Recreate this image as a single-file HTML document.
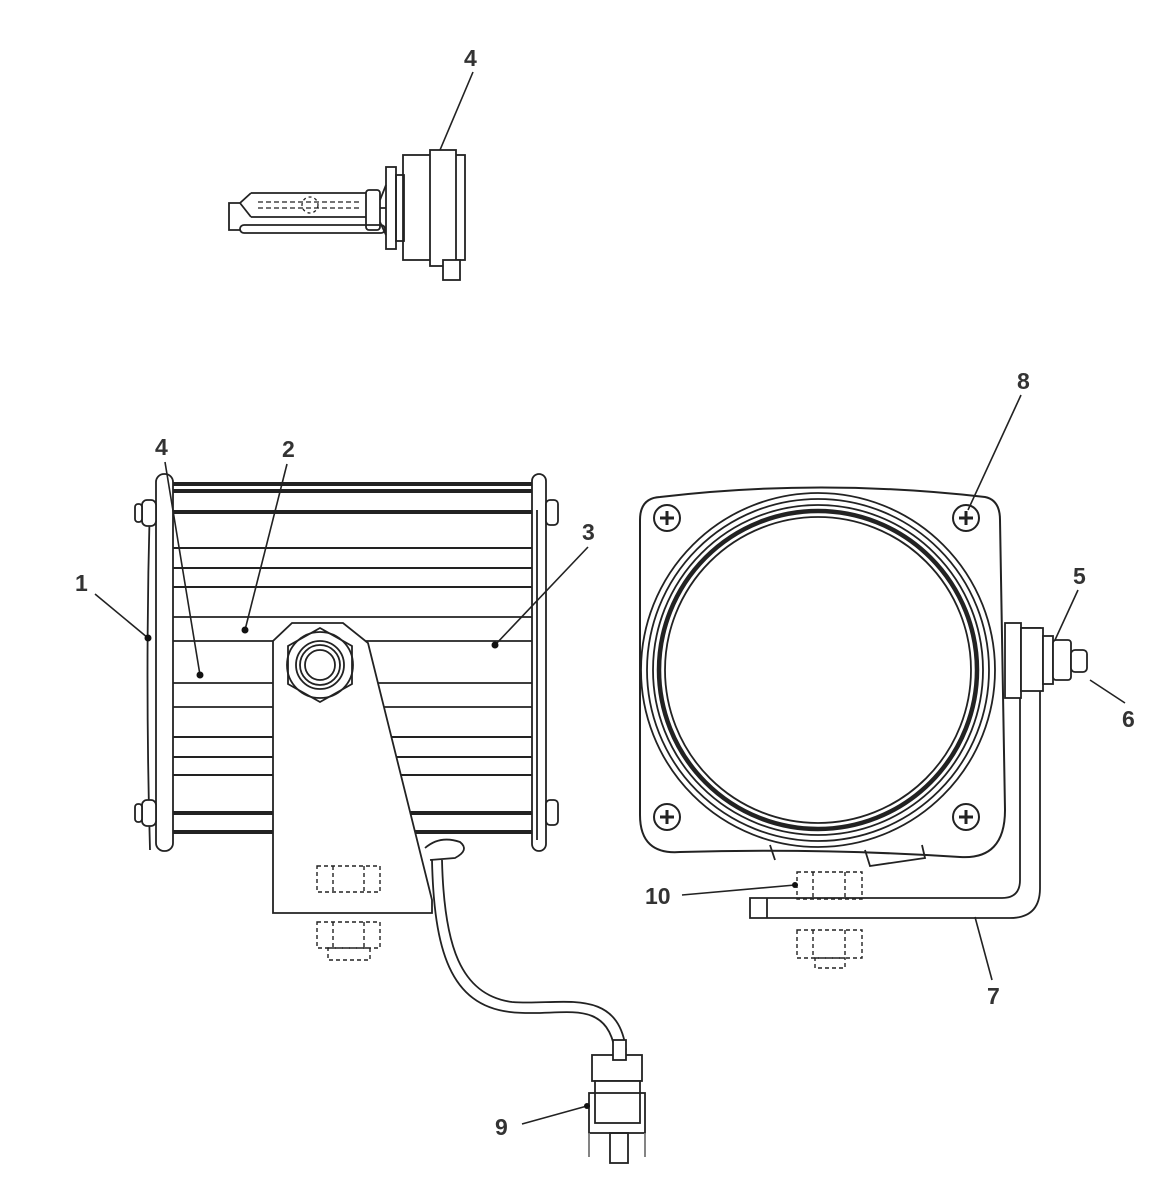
<!DOCTYPE html>
<html><head><meta charset="utf-8"><style>
html,body{margin:0;padding:0;background:#fff}
svg{display:block}
text{font-family:"Liberation Sans",Arial,sans-serif;font-weight:bold;font-size:23px;fill:#333}
</style></head><body>
<svg width="1173" height="1198" viewBox="0 0 1173 1198" xmlns="http://www.w3.org/2000/svg">
<g fill="none" stroke="#222" stroke-width="1.8">
<!-- Bulb -->
<rect x="403" y="155" width="62" height="105" fill="#fff"/>
<rect x="430" y="150" width="26" height="116" fill="#fff"/>
<rect x="443" y="260" width="17" height="20" fill="#fff"/>
<rect x="386" y="167" width="10" height="82" fill="#fff"/>
<rect x="396" y="175" width="8" height="66"/>
<rect x="366" y="190" width="14" height="40" rx="3" fill="#fff"/>
<path d="M380,200 L386,185 M380,222 L386,235 M380,208 L386,208"/>
<path d="M251,193 L366,193 M251,217 L366,217 M251,193 L240,203 L229,203 L229,230 L240,230 M240,203 L251,217"/>
<rect x="240" y="225" width="145" height="8" rx="4"/>
<path d="M258,202 H360 M258,208 H360" stroke-dasharray="5,3" stroke-width="1.3"/>
<circle cx="310" cy="205" r="8" stroke-dasharray="3,3" stroke-width="1.3"/>

<!-- Left lamp: housing -->
<g stroke-width="2">
<path d="M165,548 H540 M165,568 H540 M165,587 H540
M165,737 H540 M165,757 H540 M165,775 H540"/>
</g>
<g stroke-width="4">
<path d="M165,484 H540 M165,491 H540 M165,512 H540 M165,813 H540 M165,832 H540"/>
</g>
<rect x="164" y="617" width="378" height="24" rx="5" fill="#fff"/>
<rect x="164" y="683" width="378" height="24" rx="5" fill="#fff"/>
<!-- front bezel -->
<rect x="156" y="474" width="17" height="377" rx="8" fill="#fff"/>
<path d="M150,500 Q145,675 150,850"/>
<rect x="142" y="500" width="14" height="26" rx="5" fill="#fff"/>
<rect x="135" y="504" width="7" height="18" rx="3" fill="#fff"/>
<rect x="142" y="800" width="14" height="26" rx="5" fill="#fff"/>
<rect x="135" y="804" width="7" height="18" rx="3" fill="#fff"/>
<!-- rear plate -->
<rect x="532" y="474" width="14" height="377" rx="7" fill="#fff"/>
<path d="M537,510 V840"/>
<rect x="546" y="500" width="12" height="25" rx="4" fill="#fff"/>
<rect x="546" y="800" width="12" height="25" rx="4" fill="#fff"/>
<!-- bracket -->
<path d="M273,913 V641 L292,623 H343 L368,643 L432,900 V913 Z" fill="#fff"/>
<path d="M425,848 Q440,835 460,842 Q470,850 455,858 L430,860" fill="#fff"/>
<polygon points="320,628 352,646 352,684 320,702 288,684 288,646"/>
<circle cx="320" cy="665" r="33"/>
<circle cx="320" cy="665" r="24"/>
<circle cx="320" cy="665" r="20"/>
<circle cx="320" cy="665" r="15"/>
<g stroke-dasharray="4,3" stroke-width="1.4">
<rect x="317" y="866" width="63" height="26"/>
<path d="M333,866 V892 M364,866 V892"/>
<rect x="317" y="922" width="63" height="26"/>
<path d="M333,922 V948 M364,922 V948"/>
<rect x="328" y="948" width="42" height="12"/>
</g>
<!-- cable -->
<path d="M432,860 C434,950 450,1005 510,1012 C560,1018 605,995 615,1050"/>
<path d="M442,860 C444,945 460,995 512,1002 C560,1006 618,985 626,1050"/>
<rect x="592" y="1055" width="50" height="26" fill="#fff"/>
<rect x="613" y="1040" width="13" height="20" fill="#fff"/>
<rect x="595" y="1081" width="45" height="42" fill="#fff"/>
<rect x="589" y="1093" width="56" height="40"/>
<path d="M589,1133 V1157 M645,1133 V1157" stroke="#777"/>
<rect x="610" y="1133" width="18" height="30"/>

<!-- Right lamp bezel -->
<path d="M660,497 Q820,478 985,497 Q1000,500 1000,520 L1005,810 Q1005,860 960,857 Q820,848 680,852 Q640,855 640,815 L640,520 Q640,498 660,497 Z" fill="#fff" stroke-width="2"/>
<path d="M770,845 L775,860 M865,850 L870,866 L925,858 L922,845"/>
<circle cx="818" cy="670" r="177"/>
<circle cx="818" cy="670" r="171"/>
<circle cx="818" cy="670" r="165"/>
<circle cx="818" cy="670" r="159" stroke-width="4.5"/>
<circle cx="818" cy="670" r="153"/>
<g stroke-width="2">
<circle cx="667" cy="518" r="13"/><path d="M660,518 H674 M667,511 V525" stroke-width="3"/>
<circle cx="966" cy="518" r="13"/><path d="M959,518 H973 M966,511 V525" stroke-width="3"/>
<circle cx="667" cy="817" r="13"/><path d="M660,817 H674 M667,810 V824" stroke-width="3"/>
<circle cx="966" cy="817" r="13"/><path d="M959,817 H973 M966,810 V824" stroke-width="3"/>
</g>
<!-- bracket 7 -->
<path d="M1020,628 V880 Q1020,898 1002,898 H750 V918 H1010 Q1040,918 1040,888 V628 Z" fill="#fff"/>
<path d="M767,898 V918"/>
<rect x="1005" y="623" width="16" height="75" fill="#fff"/>
<rect x="1021" y="628" width="22" height="63" fill="#fff"/>
<rect x="1043" y="636" width="10" height="48" fill="#fff"/>
<rect x="1053" y="640" width="18" height="40" rx="3" fill="#fff"/>
<rect x="1071" y="650" width="16" height="22" rx="4" fill="#fff"/>
<g stroke-dasharray="4,3" stroke-width="1.4">
<rect x="797" y="872" width="65" height="27"/>
<path d="M813,872 V899 M845,872 V899"/>
<rect x="797" y="930" width="65" height="28"/>
<path d="M813,930 V958 M845,930 V958"/>
<rect x="815" y="958" width="30" height="10"/>
</g>

<!-- leaders -->
<g stroke-width="1.6">
<path d="M473,72 L440,150"/>
<path d="M165,462 L200,675"/>
<path d="M287,464 L245,630"/>
<path d="M95,594 L148,638"/>
<path d="M588,547 L495,645"/>
<path d="M1021,395 L968,510"/>
<path d="M1078,590 L1055,640"/>
<path d="M1125,703 L1090,680"/>
<path d="M682,895 L795,885"/>
<path d="M992,980 L975,917"/>
<path d="M522,1124 L587,1106"/>
</g>
</g>
<g fill="#111">
<circle cx="200" cy="675" r="3.5"/><circle cx="245" cy="630" r="3.5"/><circle cx="148" cy="638" r="3.5"/>
<circle cx="495" cy="645" r="3.5"/><circle cx="795" cy="885" r="3"/><circle cx="587" cy="1106" r="3"/>
</g>
<text x="464" y="66">4</text>
<text x="155" y="455">4</text>
<text x="282" y="457">2</text>
<text x="75" y="591">1</text>
<text x="582" y="540">3</text>
<text x="1017" y="389">8</text>
<text x="1073" y="584">5</text>
<text x="1122" y="727">6</text>
<text x="645" y="904">10</text>
<text x="987" y="1004">7</text>
<text x="495" y="1135">9</text>
</svg>
</body></html>
